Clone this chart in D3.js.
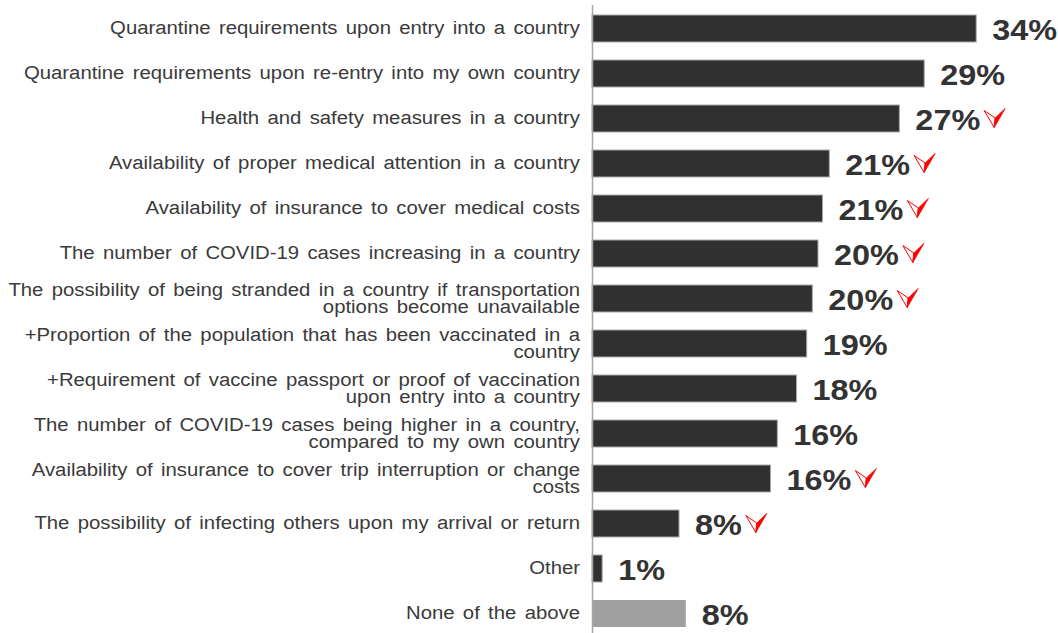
<!DOCTYPE html>
<html>
<head>
<meta charset="utf-8">
<script src="https://cdn.jsdelivr.net/npm/d3@7"></script>
<style>
  html, body { margin: 0; padding: 0; background: #fff; }
  svg { display: block; font-family: "Liberation Sans", Arial, sans-serif; }
</style>
</head>
<body>
<svg id="chart" width="1058" height="633"></svg>
<script>
// ---- data ----
const categories = [
  ["Quarantine requirements upon entry into a country"],
  ["Quarantine requirements upon re-entry into my own country"],
  ["Health and safety measures in a country"],
  ["Availability of proper medical attention in a country"],
  ["Availability of insurance to cover medical costs"],
  ["The number of COVID-19 cases increasing in a country"],
  ["The possibility of being stranded in a country if transportation", "options become unavailable"],
  ["+Proportion of the population that has been vaccinated in a", "country"],
  ["+Requirement of vaccine passport or proof of vaccination", "upon entry into a country"],
  ["The number of COVID-19 cases being higher in a country,", "compared to my own country"],
  ["Availability of insurance to cover trip interruption or change", "costs"],
  ["The possibility of infecting others upon my arrival or return"],
  ["Other"],
  ["None of the above"]
];
const values = [34.0, 29.4, 27.2, 21.0, 20.4, 20.0, 19.5, 19.0, 18.1, 16.4, 15.8, 7.7, 0.9, 8.3];
const valueLabels = ["34%", "29%", "27%", "21%", "21%", "20%", "20%", "19%", "18%", "16%", "16%", "8%", "1%", "8%"];
const downArrow = [false, false, true, true, true, true, true, false, false, false, true, true, false, false];
const isNone = [false, false, false, false, false, false, false, false, false, false, false, false, false, true];

// ---- layout ----
const svg = d3.select("#chart");
const x0 = 592;
const x = d3.scaleLinear().domain([0, 40]).range([x0, x0 + 452]);
const ids = d3.range(categories.length);
const y = d3.scaleBand().domain(ids).range([6, 636]).paddingInner(0.4).paddingOuter(0.2);
const sx = 1.07;

// bars
svg.append("g").selectAll("rect").data(ids).join("rect")
  .attr("x", x(0))
  .attr("y", i => y(i))
  .attr("width", i => x(values[i]) - x(0))
  .attr("height", y.bandwidth())
  .attr("fill", i => isNone[i] ? "#a0a0a0" : "#303030")
  .attr("stroke", i => isNone[i] ? "none" : "#a8a8a8")
  .attr("stroke-width", 1);

// axis line
svg.append("line")
  .attr("x1", x0 + 0.5).attr("x2", x0 + 0.5)
  .attr("y1", 5).attr("y2", 633)
  .attr("stroke", "#a6a6a6").attr("stroke-width", 1.5);

// category labels
const lineH = 17;
const lab = svg.append("g").selectAll("text").data(ids).join("text")
  .attr("text-anchor", "end")
  .attr("fill", "#3a3a3a")
  .style("font-size", "19px")
  .style("word-spacing", "2.5px")
  .attr("transform", i => `translate(${x0 - 12},${y(i) + y.bandwidth() / 2}) scale(${sx},1)`);
lab.each(function(i) {
  const lines = categories[i];
  const n = lines.length;
  d3.select(this).selectAll("tspan").data(lines).join("tspan")
    .attr("x", 0)
    .attr("y", (d, k) => (k - (n - 1) / 2) * lineH)
    .attr("dy", n > 1 ? "0.32em" : "0.27em")
    .text(d => d);
});

// value labels
const vsx = 1.08;
const vl = svg.append("g").selectAll("text").data(ids).join("text")
  .attr("transform", i => `translate(${x(values[i]) + 16},${y(i) + y.bandwidth() / 2 + 1}) scale(${vsx},1)`)
  .attr("dy", "0.36em")
  .attr("fill", "#333333")
  .style("font-size", "30px")
  .style("font-weight", "bold")
  .text(i => valueLabels[i]);

// arrows
vl.each(function(i) {
  if (!downArrow[i]) return;
  const bb = this.getBBox();
  const ax = x(values[i]) + 16 + (bb.x + bb.width) * vsx + 3;
  const cy = y(i) + y.bandwidth() / 2;
  const g = svg.append("g").attr("transform", `translate(${ax},${cy - 10})`);
  // outlined left half
  g.append("path").attr("d", "M1,2 L12,9.5 L11,19 Z")
    .attr("fill", "#fff").attr("stroke", "#ff0000").attr("stroke-width", 1).attr("stroke-linejoin", "miter");
  // filled right half
  g.append("path").attr("d", "M12,9.5 L22,0 L11,19 Z")
    .attr("fill", "#ff0000").attr("stroke", "#ff0000").attr("stroke-width", 0.8);
});
</script>
</body>
</html>
